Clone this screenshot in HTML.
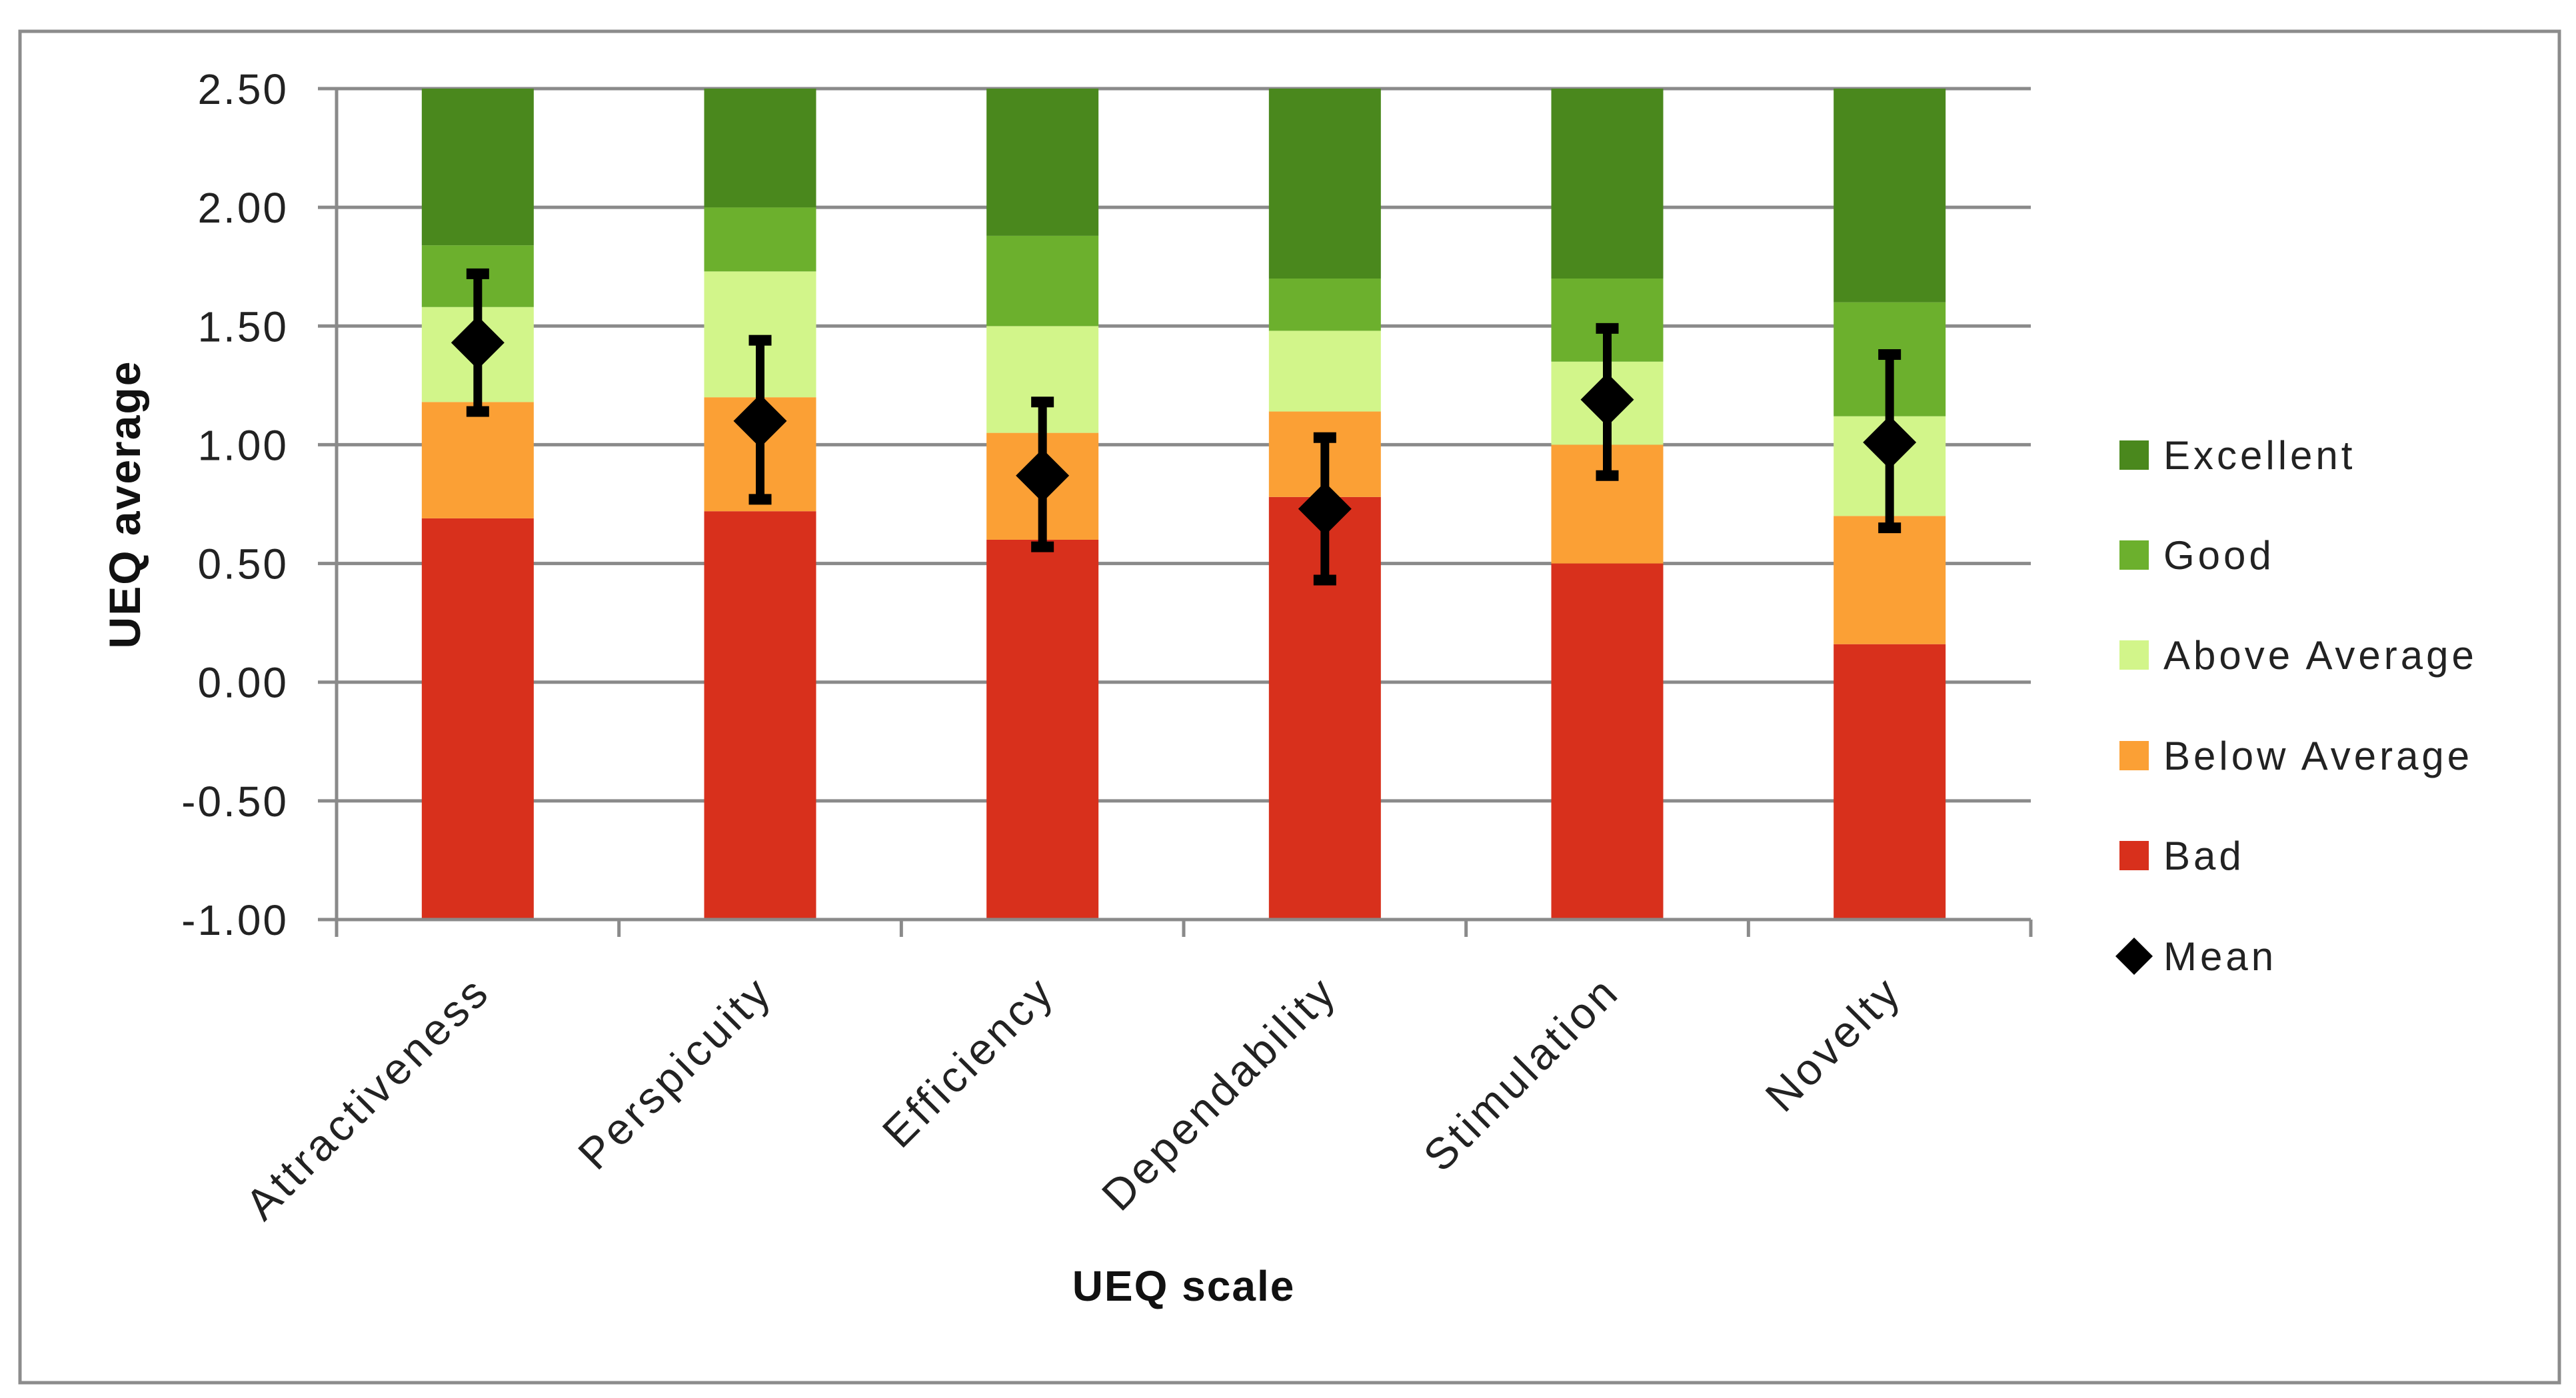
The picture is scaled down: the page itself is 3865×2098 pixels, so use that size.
<!DOCTYPE html>
<html><head><meta charset="utf-8"><style>
html,body{margin:0;padding:0;background:#fff;}
svg{display:block;font-family:"Liberation Sans",sans-serif;}
</style></head><body>
<svg id="chart" width="3865" height="2098" viewBox="0 0 3865 2098" xmlns="http://www.w3.org/2000/svg">
<rect x="30" y="47" width="3810" height="2028" fill="#fff" stroke="#8c8c8c" stroke-width="5"/>
<g id="grid"></g><g id="bars"></g><g id="axes"></g><g id="means"></g><g id="labels"></g>
<text transform="translate(210,757) rotate(-90)" text-anchor="middle" font-size="66" font-weight="bold" fill="#111" letter-spacing="2">UEQ average</text>
<text x="1776" y="1952" text-anchor="middle" font-size="64" font-weight="bold" fill="#111" letter-spacing="2">UEQ scale</text>
<g id="legend"></g>
</svg>
<script>
const categories=["Attractiveness","Perspicuity","Efficiency","Dependability","Stimulation","Novelty"];
const badTop=[0.69,0.72,0.60,0.78,0.50,0.16];
const belowTop=[1.18,1.20,1.05,1.14,1.00,0.70];
const aboveTop=[1.58,1.73,1.50,1.48,1.35,1.12];
const goodTop=[1.84,2.00,1.88,1.70,1.70,1.60];
const excellentTop=[2.5,2.5,2.5,2.5,2.5,2.5];
const means=[1.43,1.10,0.87,0.73,1.19,1.01];
const errLow=[1.14,0.77,0.57,0.43,0.87,0.65];
const errHigh=[1.72,1.44,1.18,1.03,1.49,1.38];
const yTicks=[-1,-0.5,0,0.5,1,1.5,2,2.5];
const yTickLabels=["-1.00","-0.50","0.00","0.50","1.00","1.50","2.00","2.50"];
const legendNames=["Excellent","Good","Above Average","Below Average","Bad","Mean"];

const NS="http://www.w3.org/2000/svg";
const X0=505,X1=3047,Y0=1380,Y1=133,VMIN=-1,VMAX=2.5;
const catW=(X1-X0)/categories.length;
const y=v=>Y0-(v-VMIN)/(VMAX-VMIN)*(Y0-Y1);
const xc=i=>X0+catW*(i+0.5);
function mk(tag,attrs,parent){const e=document.createElementNS(NS,tag);for(const k in attrs)e.setAttribute(k,attrs[k]);parent.appendChild(e);return e;}
const G=id=>document.getElementById(id);
const colors={Excellent:"#4a881d",Good:"#6cb02d","Above Average":"#d2f58a","Below Average":"#fba035",Bad:"#d8301c"};

yTicks.forEach((v,i)=>{
  const l=mk("line",{x1:X0-28,x2:X1,y1:y(v),y2:y(v),stroke:"#8a8a8a","stroke-width":5},G("grid"));
  
  
  const t=mk("text",{x:433,y:y(v)+23,"text-anchor":"end","font-size":64,"letter-spacing":3,fill:"#222"},G("labels"));
  t.textContent=yTickLabels[i];
  
  
});

const layers=[["Bad",null,badTop],["Below Average",badTop,belowTop],["Above Average",belowTop,aboveTop],["Good",aboveTop,goodTop],["Excellent",goodTop,excellentTop]];
const bw=168;
categories.forEach((c,i)=>{
  layers.forEach(([name,lo,hi])=>{
    const b=lo?lo[i]:VMIN;
    const r=mk("rect",{x:xc(i)-bw/2,y:y(hi[i]),width:bw,height:y(b)-y(hi[i]),fill:colors[name]},G("bars"));
    
    
  });
  const cx=xc(i);
  const eb=mk("line",{x1:cx,x2:cx,y1:y(errLow[i]),y2:y(errHigh[i]),stroke:"#000","stroke-width":13},G("means"));
  
  
  [errLow[i],errHigh[i]].forEach(v=>{
    const cp=mk("rect",{x:cx-17,y:y(v)-8,width:34,height:16,fill:"#000"},G("means"));
    
    
  });
  const my=y(means[i]);
  const d=mk("polygon",{points:`${cx},${my-40} ${cx+40},${my} ${cx},${my+40} ${cx-40},${my}`,fill:"#000"},G("means"));
  
  
  const tx=cx+22,ty=1492;
  const t=mk("text",{x:tx,y:ty,"text-anchor":"end","font-size":66,"letter-spacing":5,fill:"#222",transform:`rotate(-45 ${tx} ${ty})`},G("labels"));
  t.textContent=c;
  
  
});
const ya=mk("line",{x1:X0,x2:X0,y1:Y1,y2:Y0+26,stroke:"#8a8a8a","stroke-width":5},G("axes"));


const xa=mk("line",{x1:X0,x2:X1,y1:Y0,y2:Y0,stroke:"#8a8a8a","stroke-width":5},G("axes"));


for(let i=1;i<=categories.length;i++){
  const tk=mk("line",{x1:X0+catW*i,x2:X0+catW*i,y1:Y0,y2:Y0+26,stroke:"#8a8a8a","stroke-width":5},G("axes"));
  
  
}
const ly=[683,833,983,1134,1284,1435];
legendNames.forEach((n,i)=>{
  const g=mk("g",{},G("legend"));
  
  
  if(n==="Mean"){
    mk("polygon",{points:`3202,${ly[i]-28} 3230,${ly[i]} 3202,${ly[i]+28} 3174,${ly[i]}`,fill:"#000"},g);
  } else {
    mk("rect",{x:3180,y:ly[i]-22,width:44,height:44,fill:colors[n]},g);
  }
  const t=mk("text",{x:3246,y:ly[i]+21,"font-size":60,fill:"#222"},g);
  t.textContent=n;
  t.setAttribute('letter-spacing','5');
});
</script>
</body></html>
